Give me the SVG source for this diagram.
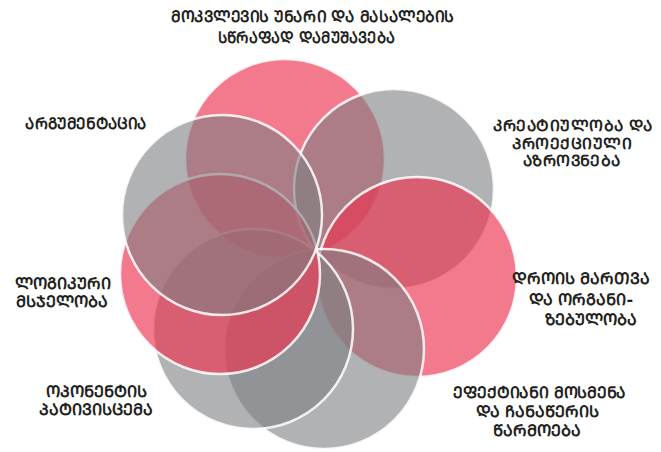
<svg xmlns="http://www.w3.org/2000/svg" width="661" height="452" viewBox="0 0 661 452">
<style>
.pk{fill:#EC324F;fill-opacity:0.65;stroke:#fff;stroke-width:2.5;stroke-opacity:0.85}
.gy{fill:#7D7F82;fill-opacity:0.6;stroke:#fff;stroke-width:2.5;stroke-opacity:0.85}
.t{font-family:"DejaVu Sans","Noto Sans",sans-serif;font-weight:bold;font-size:16px;fill:#231F20}
.s{font-size:15.5px}
.c{text-anchor:middle}
</style>
<rect width="661" height="452" fill="#fff"/>
<g id="petals">
<circle id="c1" class="pk" cx="285" cy="159" r="100"/>
<circle id="c2" class="gy" cx="394" cy="189" r="100"/>
<circle id="c3" class="pk" cx="417" cy="277" r="100"/>
<circle id="c4" class="gy" cx="324" cy="349" r="100"/>
<circle id="c5" class="gy" cx="253" cy="329" r="100"/>
<circle id="c6" class="pk" cx="220" cy="274" r="100"/>
<circle id="c7" class="gy" cx="222" cy="215" r="100"/>
</g>
<g id="label-research" class="t c">
<text x="312.5" y="22" textLength="283" lengthAdjust="spacingAndGlyphs">ᲛᲝᲙᲕᲚᲔᲕᲘᲡ ᲣᲜᲐᲠᲘ ᲓᲐ ᲛᲐᲡᲐᲚᲔᲑᲘᲡ</text>
<text x="306.5" y="43" textLength="177" lengthAdjust="spacingAndGlyphs">ᲡᲬᲠᲐᲤᲐᲓ ᲓᲐᲛᲣᲨᲐᲕᲔᲑᲐ</text>
</g>
<g id="label-creativity" class="t s c">
<text x="572.5" y="131" textLength="159">ᲙᲠᲔᲐᲢᲘᲣᲚᲝᲑᲐ ᲓᲐ</text>
<text x="572" y="148.5" textLength="120">ᲞᲠᲝᲔᲥᲪᲘᲣᲚᲘ</text>
<text x="571.5" y="166" textLength="97">ᲐᲖᲠᲝᲕᲜᲔᲑᲐ</text>
</g>
<g id="label-time" class="t c">
<text x="581" y="284">ᲓᲠᲝᲘᲡ ᲛᲐᲠᲗᲕᲐ</text>
<text x="581" y="304.5">ᲓᲐ ᲝᲠᲒᲐᲜᲘ-</text>
<text x="591" y="325">ᲖᲔᲑᲣᲚᲝᲑᲐ</text>
</g>
<g id="label-listening" class="t c">
<text x="539.5" y="398" textLength="173" lengthAdjust="spacingAndGlyphs">ᲔᲤᲔᲥᲢᲘᲐᲜᲘ ᲛᲝᲡᲛᲔᲜᲐ</text>
<text x="537.5" y="416.5">ᲓᲐ ᲩᲐᲜᲐᲬᲔᲠᲘᲡ</text>
<text x="536.5" y="435.5">ᲬᲐᲠᲛᲝᲔᲑᲐ</text>
</g>
<g id="label-argument" class="t c">
<text x="86" y="129" textLength="122" lengthAdjust="spacingAndGlyphs">ᲐᲠᲒᲣᲛᲔᲜᲢᲐᲪᲘᲐ</text>
</g>
<g id="label-logic" class="t">
<text x="15" y="289">ᲚᲝᲒᲘᲙᲣᲠᲘ</text>
<text x="16" y="307">ᲛᲡᲯᲔᲚᲝᲑᲐ</text>
</g>
<g id="label-respect" class="t c">
<text x="96.5" y="397">ᲝᲞᲝᲜᲔᲜᲢᲘᲡ</text>
<text x="96" y="415">ᲞᲐᲢᲘᲕᲘᲡᲪᲔᲛᲐ</text>
</g>
</svg>
